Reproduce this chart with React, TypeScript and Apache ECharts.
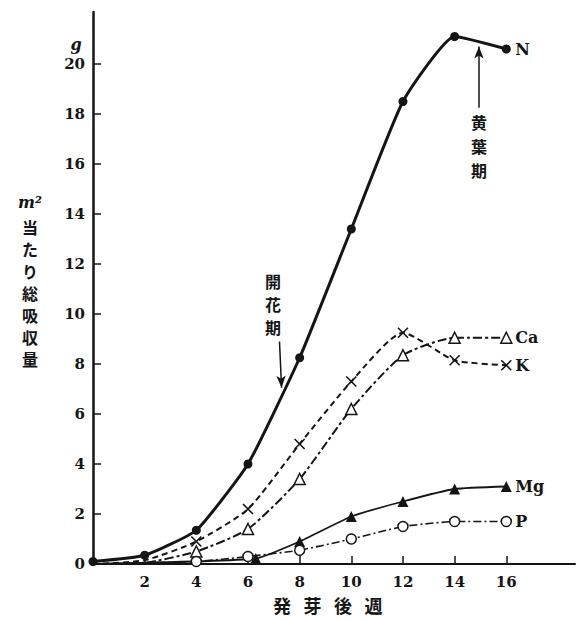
import React, { useEffect, useRef } from "react";
import * as echarts from "echarts";

const weeks = [0, 2, 4, 6, 8, 10, 12, 14, 16];
const nValues = [0.1, 0.35, 1.35, 4.0, 8.25, 13.4, 18.5, 21.1, 20.6];
const kValues = [0, 0.15, 0.9, 2.2, 4.8, 7.3, 9.25, 8.15, 7.95];
const caValues = [0, 0.05, 0.5, 1.4, 3.4, 6.2, 8.35, 9.05, 9.05];
const mgWeeks = [0, 6.3, 8, 10, 12, 14, 16];
const mgValues = [0, 0.22, 0.9, 1.9, 2.5, 3.0, 3.1];
const pWeeks = [0, 4, 6, 8, 10, 12, 14, 16];
const pValues = [0, 0.1, 0.3, 0.55, 1.0, 1.5, 1.7, 1.7];
const xTicks = [2, 4, 6, 8, 10, 12, 14, 16];
const yLabels = [0, 2, 4, 6, 8, 10, 12, 14, 16, 18, 20];
const yTicks = [2, 4, 6, 8, 10, 12, 14, 16, 18, 20];
const xTitle = ["発", "芽", "後", "週"];
const yTitle = ["当", "た", "り", "総", "吸", "収", "量"];

const INK = "#151515";
const SERIF = "'DejaVu Serif', 'Liberation Serif', serif";
const CJK = "'Noto Sans CJK JP', sans-serif";

function pts(xs: number[], ys: number[], hide: number[] = []) {
  return xs.map((x, i) =>
    hide.includes(i) ? { value: [x, ys[i]], symbol: "none" } : { value: [x, ys[i]] }
  );
}

function vText(chars: string[], x: number, y0: number, step: number, size: number) {
  return chars.map((c, i) => ({
    type: "text",
    x,
    y: y0 + i * step,
    style: {
      text: c,
      fill: INK,
      font: `bold ${size}px ${CJK}`,
      lineHeight: size,
      align: "center",
      verticalAlign: "middle",
    },
  }));
}

export default function App() {
  const ref = useRef<HTMLDivElement>(null);
  useEffect(() => {
    const chart = echarts.init(ref.current!, null, { renderer: "svg" });
    const endLabel = (t: string) => ({
      show: true,
      formatter: t,
      color: INK,
      fontFamily: SERIF,
      fontWeight: "bold",
      fontSize: 16,
      distance: 9,
    });
    chart.setOption({
      animation: false,
      backgroundColor: "#ffffff",
      grid: { left: 93, right: 3, top: 12, bottom: 56 },
      xAxis: {
        type: "value",
        min: 0,
        max: 18.66,
        interval: 2,
        splitLine: { show: false },
        axisLine: { show: true, onZero: false, lineStyle: { color: INK, width: 2 } },
        axisTick: {
          show: true,
          inside: true,
          length: 8,
          customValues: xTicks,
          lineStyle: { color: INK, width: 1.5 },
        },
        axisLabel: {
          customValues: xTicks,
          color: INK,
          fontFamily: SERIF,
          fontWeight: "bold",
          fontSize: 15,
          margin: 10,
        },
      },
      yAxis: {
        type: "value",
        min: 0,
        max: 22.08,
        interval: 2,
        splitLine: { show: false },
        axisLine: { show: true, lineStyle: { color: INK, width: 2.5 } },
        axisTick: {
          show: true,
          inside: true,
          length: 8,
          customValues: yTicks,
          lineStyle: { color: INK, width: 1.5 },
        },
        axisLabel: {
          customValues: yLabels,
          color: INK,
          fontFamily: SERIF,
          fontWeight: "bold",
          fontSize: 15,
          margin: 8,
        },
      },
      series: [
        {
          name: "N",
          type: "line",
          z: 5,
          smooth: 0.15,
          data: pts(weeks, nValues),
          symbol: "circle",
          symbolSize: 9,
          itemStyle: { color: INK },
          lineStyle: { color: INK, width: 3 },
          endLabel: endLabel("N"),
          markLine: {
            silent: true,
            symbol: ["none", "arrow"],
            symbolSize: [7, 12],
            label: { show: false },
            lineStyle: { color: INK, width: 1.5, type: "solid" },
            data: [
              [{ coord: [7.22, 8.9] }, { coord: [7.3, 7.05] }],
              [{ coord: [14.94, 18.25] }, { coord: [14.94, 20.7] }],
            ],
          },
        },
        {
          name: "K",
          type: "line",
          smooth: 0.2,
          data: pts(weeks, kValues, [0, 1]),
          symbol: "path://M0,0L10,10M10,0L0,10",
          symbolSize: 10,
          itemStyle: { color: INK, borderColor: INK, borderWidth: 1.6 },
          lineStyle: { color: INK, width: 2, type: [6, 4] },
          endLabel: endLabel("K"),
        },
        {
          name: "Ca",
          type: "line",
          smooth: 0.2,
          data: pts(weeks, caValues, [0, 1]),
          symbol: "triangle",
          symbolSize: 11,
          itemStyle: { color: "#ffffff", borderColor: INK, borderWidth: 1.5 },
          lineStyle: { color: INK, width: 2, type: [9, 3, 3, 3] },
          endLabel: endLabel("Ca"),
        },
        {
          name: "Mg",
          type: "line",
          smooth: 0.15,
          data: pts(mgWeeks, mgValues, [0]),
          symbol: "triangle",
          symbolSize: 11,
          itemStyle: { color: INK },
          lineStyle: { color: INK, width: 1.8 },
          endLabel: endLabel("Mg"),
        },
        {
          name: "P",
          type: "line",
          smooth: 0.15,
          data: pts(pWeeks, pValues, [0]),
          symbol: "circle",
          symbolSize: 10,
          itemStyle: { color: "#ffffff", borderColor: INK, borderWidth: 1.5 },
          lineStyle: { color: INK, width: 1.6, type: [8, 3, 2, 3] },
          endLabel: endLabel("P"),
        },
      ],
      graphic: [
        {
          type: "text",
          x: 76,
          y: 44,
          style: {
            text: "g",
            fill: INK,
            font: `italic bold 16px ${SERIF}`,
            align: "center",
            verticalAlign: "middle",
          },
        },
        {
          type: "text",
          x: 30,
          y: 202,
          style: {
            text: "m²",
            fill: INK,
            font: `italic bold 16px ${SERIF}`,
            lineHeight: 16,
            align: "center",
            verticalAlign: "middle",
          },
        },
        ...vText(yTitle, 30, 227, 22, 16),
        ...vText(["開", "花", "期"], 273, 281, 23, 16),
        ...vText(["黄", "葉", "期"], 479, 122, 24, 16),
        ...xTitle.map((c, i) => ({
          type: "text",
          x: 282 + i * 30.5,
          y: 605,
          style: {
            text: c,
            fill: INK,
            font: `bold 18px ${CJK}`,
            align: "center",
            verticalAlign: "middle",
          },
        })),
      ],
    });
    return () => chart.dispose();
  }, []);
  return (
    <div
      ref={ref}
      style={{ position: "fixed", left: 0, top: 0, width: 578, height: 620 }}
    />
  );
}
